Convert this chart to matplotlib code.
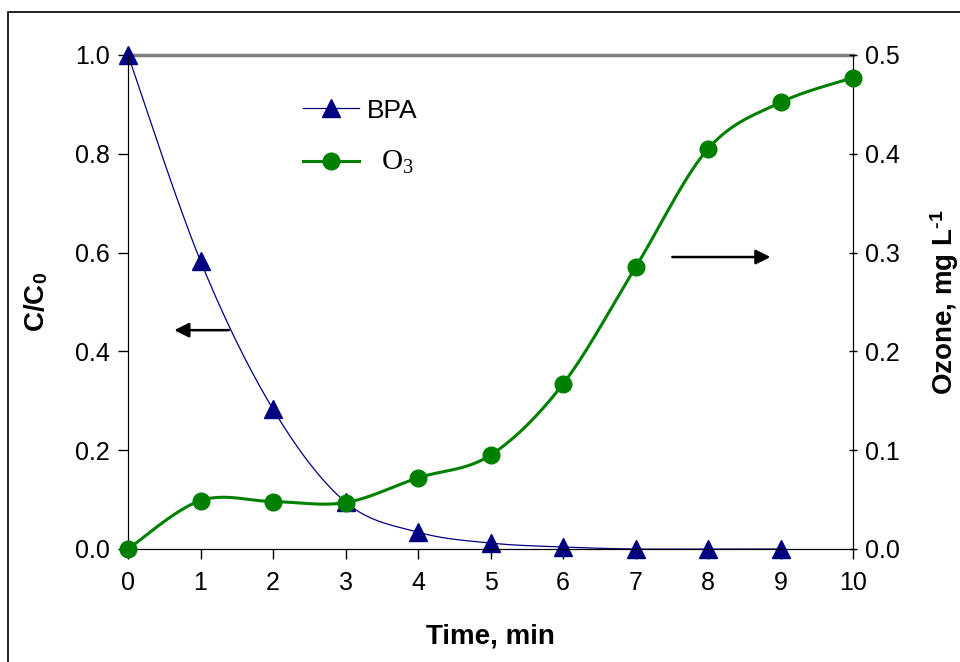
import numpy as np
import matplotlib.pyplot as plt
from matplotlib.lines import Line2D
from matplotlib.patches import Rectangle

plt.rcParams['font.family'] = ['Liberation Sans', 'DejaVu Sans']
plt.rcParams['mathtext.fontset'] = 'custom'
plt.rcParams['mathtext.rm'] = 'Liberation Serif'
plt.rcParams['mathtext.bf'] = 'Liberation Sans:bold'
plt.rcParams['mathtext.default'] = 'rm'

# Data
time_min = [0, 1, 2, 3, 4, 5, 6, 7, 8, 9, 10]
bpa_time = [0, 1, 2, 3, 4, 5, 6, 7, 8, 9]
bpa_ratio = [1.0, 0.583, 0.283, 0.095, 0.034, 0.012, 0.004, 0.0, 0.0, 0.0]
ozone = [0.0, 0.049, 0.048, 0.047, 0.072, 0.095, 0.167, 0.285, 0.405, 0.452, 0.477]


# Smooth curve through the points (Catmull-Rom / Bezier, like spreadsheet smoothing)
def smooth(x, y, n=30):
    x = np.asarray(x, float)
    y = np.asarray(y, float)
    px = np.concatenate([[x[0]], x, [x[-1]]])
    py = np.concatenate([[y[0]], y, [y[-1]]])
    xs, ys = [], []
    t = np.linspace(0, 1, n)
    for i in range(1, len(px) - 2):
        p0 = np.array([px[i], py[i]])
        p3 = np.array([px[i + 1], py[i + 1]])
        c1 = p0 + (np.array([px[i + 1], py[i + 1]]) - np.array([px[i - 1], py[i - 1]])) / 6
        c2 = p3 - (np.array([px[i + 2], py[i + 2]]) - np.array([px[i], py[i]])) / 6
        b = ((1 - t) ** 3)[:, None] * p0 + (3 * (1 - t) ** 2 * t)[:, None] * c1 \
            + (3 * (1 - t) * t ** 2)[:, None] * c2 + (t ** 3)[:, None] * p3
        xs.extend(b[:, 0])
        ys.extend(b[:, 1])
    return xs, ys


fig = plt.figure(figsize=(9.6, 6.62), dpi=100)
ax = fig.add_axes([128 / 960, 1 - 549 / 662, 725 / 960, 494 / 662])
ax2 = ax.twinx()

# outer frame
fig.patches.append(Rectangle((8 / 960, -0.1), 1.2, 1.1 - 12 / 662,
                             transform=fig.transFigure, fill=False,
                             edgecolor='black', linewidth=1.2))

navy = '#000080'
green = '#008000'

bx, by = smooth(bpa_time, bpa_ratio)
ax.plot(bx, by, color=navy, linewidth=0.9, clip_on=False, zorder=3)
ax.plot(bpa_time, bpa_ratio, linestyle='none', marker='^', markersize=13.5,
        color=navy, clip_on=False, zorder=4)

ox, oy = smooth(time_min, ozone)
ax2.plot(ox, oy, color=green, linewidth=2.2, clip_on=False, zorder=3)
ax2.plot(time_min, ozone, linestyle='none', marker='o', markersize=12,
         color=green, clip_on=False, zorder=4)

ax.set_xlim(0, 10)
ax.set_ylim(0, 1.0)
ax2.set_ylim(0, 0.5)
ax.set_xticks(range(0, 11))
ax.set_yticks(np.arange(0, 1.01, 0.2))
ax.set_yticklabels([f"{v:.1f}" for v in np.arange(0, 1.01, 0.2)])
ax2.set_yticks(np.arange(0, 0.51, 0.1))
ax2.set_yticklabels([f"{v:.1f}" for v in np.arange(0, 0.51, 0.1)])

ax.tick_params(axis='both', labelsize=18, length=7, width=1, direction='out', pad=6)
ax.tick_params(axis='x', pad=9)
ax2.tick_params(axis='y', labelsize=18, length=6, width=1, direction='inout', pad=6)

for a in (ax, ax2):
    a.spines['top'].set_color('#808080')
    a.spines['top'].set_linewidth(2.5)
ax2.spines['top'].set_visible(False)

ax.set_xlabel('Time, min', fontsize=20, fontweight='bold', labelpad=20)
ax.set_ylabel('C/C$_\\mathbf{0}$', fontsize=20, fontweight='bold', labelpad=18)
ax2.set_ylabel('Ozone, mg L$^\\mathbf{\u2010 1}$', fontsize=20, fontweight='bold', labelpad=20)

# direction arrows
ax.annotate('', xy=(0.6, 0.443), xytext=(1.43, 0.443),
            arrowprops=dict(arrowstyle='-|>', color='black', lw=1.8, mutation_scale=22))
ax.annotate('', xy=(8.9, 0.591), xytext=(7.47, 0.591),
            arrowprops=dict(arrowstyle='-|>', color='black', lw=1.8, mutation_scale=22))

handles = [Line2D([], [], color=navy, linewidth=0.9, marker='^', markersize=13.5),
           Line2D([], [], color=green, linewidth=2.2, marker='o', markersize=12)]
leg = ax.legend(handles, ['BPA', '  O$_3$'], loc='upper left', bbox_to_anchor=(0.209, 0.96),
                frameon=False, fontsize=19, handlelength=2.1, labelspacing=1.0,
                handletextpad=0.3)
leg.get_texts()[1].set_family(['Liberation Serif', 'DejaVu Serif'])
leg.get_texts()[1].set_fontsize(21)

fig.savefig('out.png', dpi=100)
